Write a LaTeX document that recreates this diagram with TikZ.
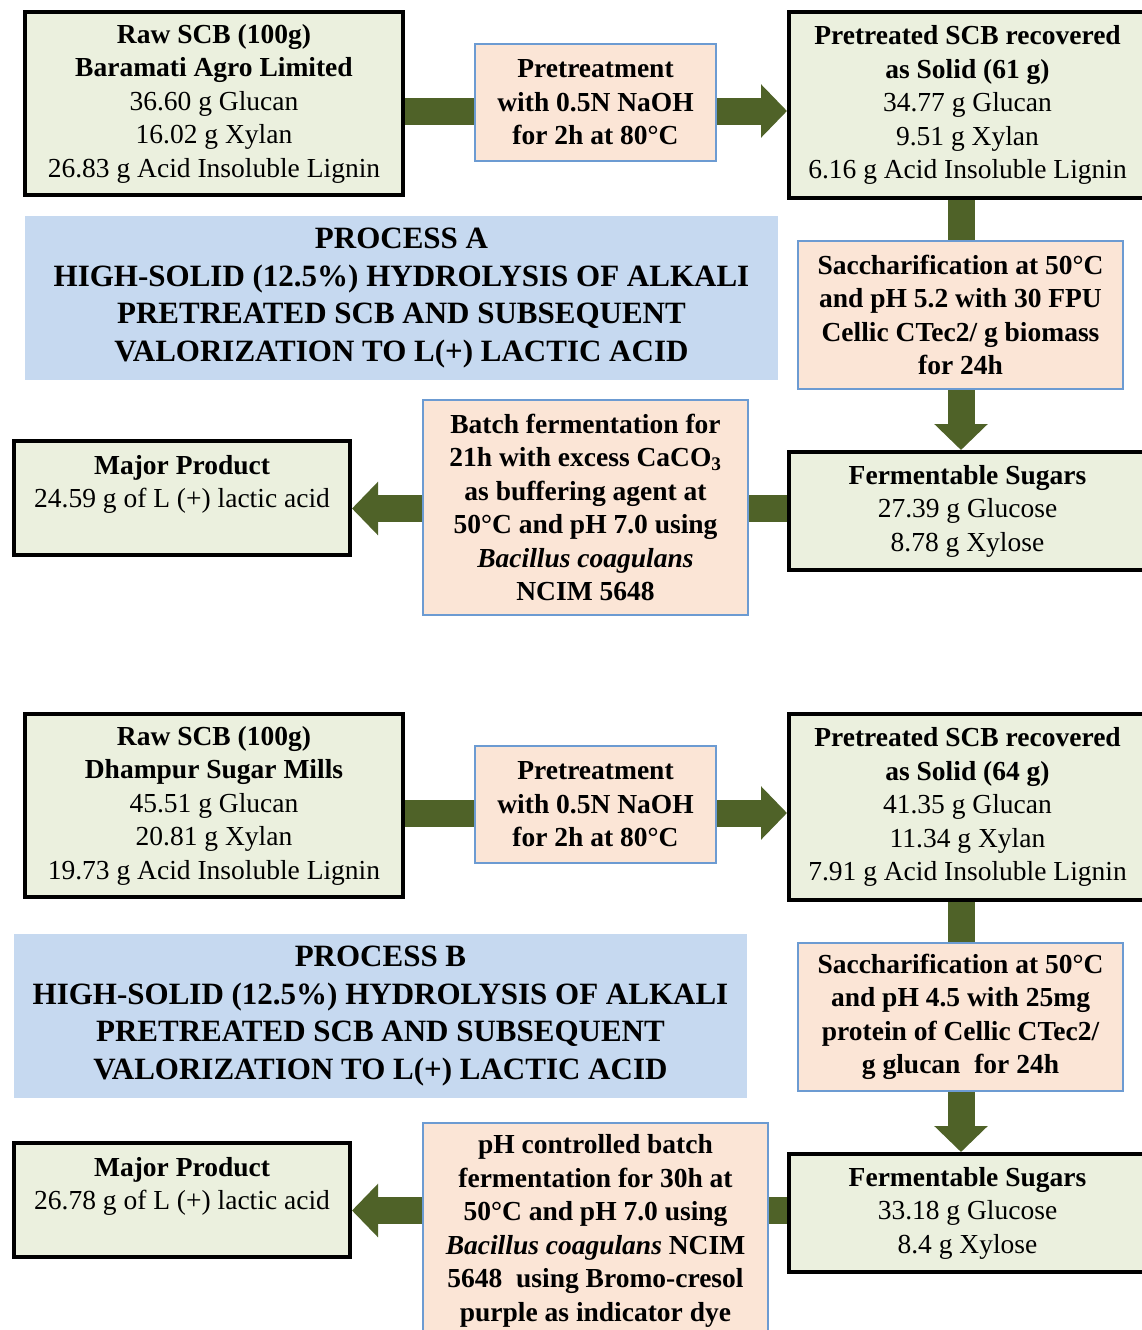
\documentclass[tikz,border=0pt]{standalone}
\usepackage{fontspec}
\setmainfont{Liberation Serif}
\usetikzlibrary{arrows.meta,backgrounds}
\definecolor{gfill}{HTML}{EBF0DE}
\definecolor{pfill}{HTML}{FBE5D6}
\definecolor{pborder}{HTML}{6C9BD2}
\definecolor{bfill}{HTML}{C6D9F0}
\definecolor{agreen}{HTML}{4F6228}
\tikzset{
  every node/.style={inner sep=0pt, align=center, font=\fontsize{27.5}{33.5}\selectfont},
  gbox/.style={draw=black, line width=4pt, fill=gfill},
  pbox/.style={draw=pborder, line width=1.5pt, fill=pfill, font=\fontsize{27.5}{33.5}\selectfont\bfseries},
  tbox/.style={fill=bfill, font=\fontsize{31}{37.5}\selectfont\bfseries},
  bar/.style={draw=agreen, line width=27pt},
  arr/.style={draw=agreen, line width=27pt, -{Triangle[length=26pt,width=52pt]}, fill=agreen},
}
\begin{document}
\begin{tikzpicture}[x=1pt,y=-1pt]
\useasboundingbox (0,0) rectangle (1142,1330);
\clip (0,0) rectangle (1142,1330);
% ---------------- PROCESS A ----------------
\node[gbox, minimum width=378, minimum height=183] (rawA) at (214,103.5)
  {\textbf{Raw SCB (100g)}\\\textbf{Baramati Agro Limited}\\36.60 g Glucan\\16.02 g Xylan\\26.83 g Acid Insoluble Lignin};
\node[pbox, minimum width=241, minimum height=117] (preA) at (595.5,102.5)
  {Pretreatment\\with 0.5N NaOH\\for 2h at 80°C};
\node[gbox, minimum width=357, minimum height=186] (ptA) at (967.5,105)
  {\textbf{Pretreated SCB recovered}\\\textbf{as Solid (61 g)}\\34.77 g Glucan\\9.51 g Xylan\\6.16 g Acid Insoluble Lignin};
\node[tbox, minimum width=753, minimum height=164] (titA) at (401.5,298)
  {PROCESS A\\HIGH-SOLID (12.5\%) HYDROLYSIS OF ALKALI\\PRETREATED SCB AND SUBSEQUENT\\VALORIZATION TO L(+) LACTIC ACID};
\node[pbox, minimum width=325, minimum height=148] (sacA) at (960.5,315)
  {Saccharification at 50°C\\and pH 5.2 with 30 FPU\\Cellic CTec2/ g biomass\\for 24h};
\node[gbox, minimum width=357, minimum height=118] (ferA) at (967.5,511)
  {\textbf{Fermentable Sugars}\\27.39 g Glucose\\8.78 g Xylose};
\node[pbox, minimum width=325, minimum height=215] (batA) at (585.5,507.5)
  {Batch fermentation for\\21h with excess CaCO\textsubscript{3}\\as buffering agent at\\50°C and pH 7.0 using\\\textit{Bacillus coagulans}\\NCIM 5648};
\node[gbox, minimum width=336, minimum height=114] (majA) at (182,498)
  {\textbf{Major Product}\\24.59 g of L (+) lactic acid\\\mbox{}};
% ---------------- PROCESS B ----------------
\node[gbox, minimum width=378, minimum height=183] (rawB) at (214,805.5)
  {\textbf{Raw SCB (100g)}\\\textbf{Dhampur Sugar Mills}\\45.51 g Glucan\\20.81 g Xylan\\19.73 g Acid Insoluble Lignin};
\node[pbox, minimum width=241, minimum height=117] (preB) at (595.5,804.5)
  {Pretreatment\\with 0.5N NaOH\\for 2h at 80°C};
\node[gbox, minimum width=357, minimum height=186] (ptB) at (967.5,807)
  {\textbf{Pretreated SCB recovered}\\\textbf{as Solid (64 g)}\\41.35 g Glucan\\11.34 g Xylan\\7.91 g Acid Insoluble Lignin};
\node[tbox, minimum width=733, minimum height=164] (titB) at (380.5,1016)
  {PROCESS B\\HIGH-SOLID (12.5\%) HYDROLYSIS OF ALKALI\\PRETREATED SCB AND SUBSEQUENT\\VALORIZATION TO L(+) LACTIC ACID};
\node[pbox, minimum width=325, minimum height=148] (sacB) at (960.5,1017)
  {Saccharification at 50°C\\and pH 4.5 with 25mg\\protein of Cellic CTec2/\\g glucan\ \ for 24h};
\node[gbox, minimum width=357, minimum height=118] (ferB) at (967.5,1213)
  {\textbf{Fermentable Sugars}\\33.18 g Glucose\\8.4 g Xylose};
\node[pbox, minimum width=345, minimum height=216] (batB) at (595.5,1231)
  {pH controlled batch\\fermentation for 30h at\\50°C and pH 7.0 using\\\textit{Bacillus coagulans} NCIM\\5648\ \ using Bromo-cresol\\purple as indicator dye};
\node[gbox, minimum width=336, minimum height=114] (majB) at (182,1200)
  {\textbf{Major Product}\\26.78 g of L (+) lactic acid\\\mbox{}};
% ---------------- connectors ----------------
\coordinate (yA1) at (0,111);
\coordinate (yA2) at (0,508.5);
\coordinate (yB1) at (0,813);
\coordinate (yB2) at (0,1210.5);
\coordinate (xc) at (961,0);
\begin{scope}[on background layer]
\fill[white] (0,0) rectangle (1142,1330);
\draw[bar] (rawA.east |- yA1) -- (preA.west |- yA1);
\draw[arr] (preA.east |- yA1) -- (ptA.west |- yA1);
\draw[bar] (ptA.south -| xc) -- (sacA.north -| xc);
\draw[arr] (sacA.south -| xc) -- (ferA.north -| xc);
\draw[bar] (ferA.west |- yA2) -- (batA.east |- yA2);
\draw[arr] (batA.west |- yA2) -- (majA.east |- yA2);
\draw[bar] (rawB.east |- yB1) -- (preB.west |- yB1);
\draw[arr] (preB.east |- yB1) -- (ptB.west |- yB1);
\draw[bar] (ptB.south -| xc) -- (sacB.north -| xc);
\draw[arr] (sacB.south -| xc) -- (ferB.north -| xc);
\draw[bar] (ferB.west |- yB2) -- (batB.east |- yB2);
\draw[arr] (batB.west |- yB2) -- (majB.east |- yB2);
\end{scope}
\end{tikzpicture}
\end{document}
